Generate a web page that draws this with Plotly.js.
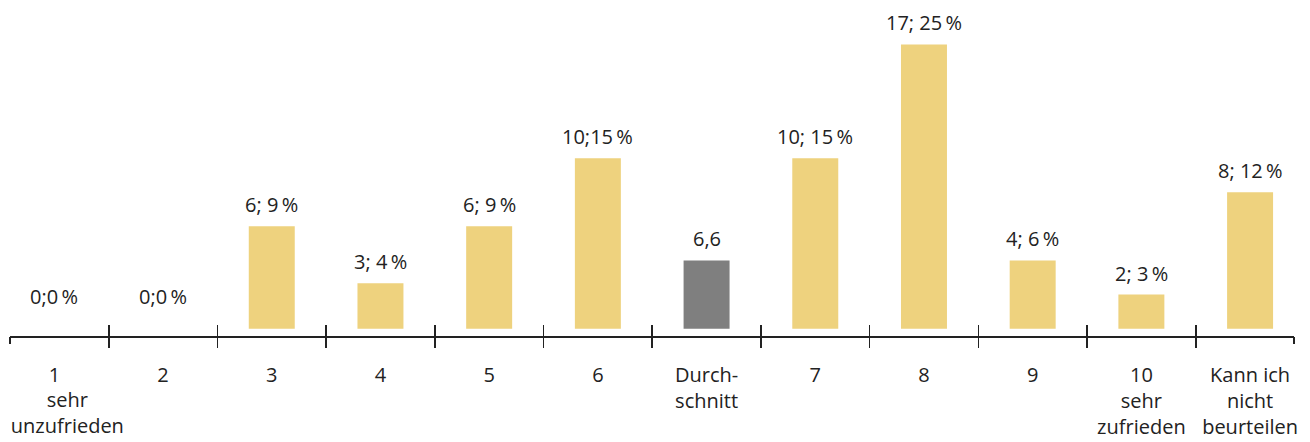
<!DOCTYPE html>
<html>
<head>
<meta charset="utf-8">
<script src="https://cdn.plot.ly/plotly-3.0.1.min.js"></script>
<style>html,body{margin:0;padding:0;background:#fff;}#chart{width:1310px;height:442px;}</style>
</head>
<body>
<div id="chart"></div>
<script>
// Data
var categories = ['1<br>sehr<br>unzufrieden', '2', '3', '4', '5', '6', 'Durch-<br>schnitt', '7', '8', '9', '10<br>sehr<br>zufrieden', 'Kann ich<br>nicht<br>beurteilen'];
var counts   = [0, 0, 6, 3, 6, 10, null, 10, 17, 4, 2, 8];
var percents = [0, 0, 9, 4, 9, 15, null, 15, 25, 6, 3, 12];
var averageValue = 6.6;
var averageBarHeight = 6;   // height of the grey bar as drawn in the picture
var averageIndex = 6;
var valueLabels = ['0;0\u2009%', '0;0\u2009%', '6; 9\u2009%', '3; 4\u2009%', '6; 9\u2009%', '10;15\u2009%', '6,6', '10; 15\u2009%', '17; 25\u2009%', '4; 6\u2009%', '2; 3\u2009%', '8; 12\u2009%'];

var idx = categories.map(function (c, i) { return i; });
var heights = percents.map(function (p, i) { return i === averageIndex ? averageBarHeight : p; });
var colors = idx.map(function (i) { return i === averageIndex ? '#7f7f7f' : '#eed27e'; });
var innerBounds = idx.slice(0, -1).map(function (i) { return i + 0.5; });
var xRange = [-0.408, 11.404];
var endBounds = [xRange[0] + 0.002, xRange[1] - 0.002];

// first category: its number on the main axis, its description on a helper axis (shifted right as in the picture)
var firstParts = categories[0].split('<br>');
var mainTickText = categories.map(function (c, i) { return i === 0 ? firstParts[0] : c; });
var firstSubText = firstParts.slice(1).join('<br>');

var FONT = '"Open Sans", "DejaVu Sans", sans-serif';
var TXT = '#222222';

var bars = {
  type: 'bar',
  x: idx,
  y: heights,
  width: 0.423,
  marker: { color: colors, line: { width: 0 } },
  hoverinfo: 'skip'
};
function helper(ax) {
  return { type: 'scatter', mode: 'none', x: [], y: [], xaxis: ax, yaxis: 'y', hoverinfo: 'skip', showlegend: false };
}

var annotations = idx.map(function (i) {
  return {
    x: i, y: heights[i], xref: 'x', yref: 'y',
    text: valueLabels[i], showarrow: false,
    xanchor: 'center', yanchor: 'middle',
    yshift: heights[i] === 0 ? 32 : 21.5,
    font: { family: FONT, size: 20, color: TXT }
  };
});

function tickAxis(side) {
  return {
    overlaying: 'x', matches: 'x', anchor: 'y', side: 'bottom', range: xRange, type: 'linear',
    tickmode: 'array', tickvals: innerBounds, showticklabels: false,
    ticks: side, ticklen: 11, tickwidth: 1.6, tickcolor: TXT,
    showgrid: false, zeroline: false, showline: false,
    minor: { tickmode: 'array', tickvals: endBounds, ticks: side, ticklen: 7, tickwidth: 1.6, tickcolor: TXT, showgrid: false }
  };
}

var layout = {
  width: 1310, height: 442,
  margin: { l: 10, r: 16, t: 20, b: 106, pad: 0 },
  paper_bgcolor: '#ffffff', plot_bgcolor: '#ffffff',
  showlegend: false,
  font: { family: FONT, size: 20, color: TXT },
  xaxis: {
    range: xRange, type: 'linear',
    tickmode: 'array', tickvals: idx, ticktext: mainTickText,
    ticks: '', showgrid: false, zeroline: false,
    showline: true, linecolor: TXT, linewidth: 1.5,
    tickfont: { family: FONT, size: 20, color: TXT },
    ticklabelstandoff: 20,
    ticklabeloverflow: 'allow'
  },
  xaxis2: tickAxis('outside'),
  xaxis3: tickAxis('inside'),
  xaxis4: {
    overlaying: 'x', matches: 'x', anchor: 'y', side: 'bottom', range: xRange, type: 'linear',
    tickmode: 'array', tickvals: [idx[0]], ticktext: [firstSubText],
    ticks: '', showgrid: false, zeroline: false, showline: false,
    tickfont: { family: FONT, size: 20, color: TXT },
    ticklabelstandoff: 50, ticklabelshift: 13,
    ticklabeloverflow: 'allow'
  },
  yaxis: {
    range: [-0.642, 27.15], visible: false, showgrid: false, zeroline: false
  },
  annotations: annotations
};

Plotly.newPlot('chart', [bars, helper('x2'), helper('x3'), helper('x4')], layout, { displayModeBar: false, staticPlot: true });
</script>
</body>
</html>
